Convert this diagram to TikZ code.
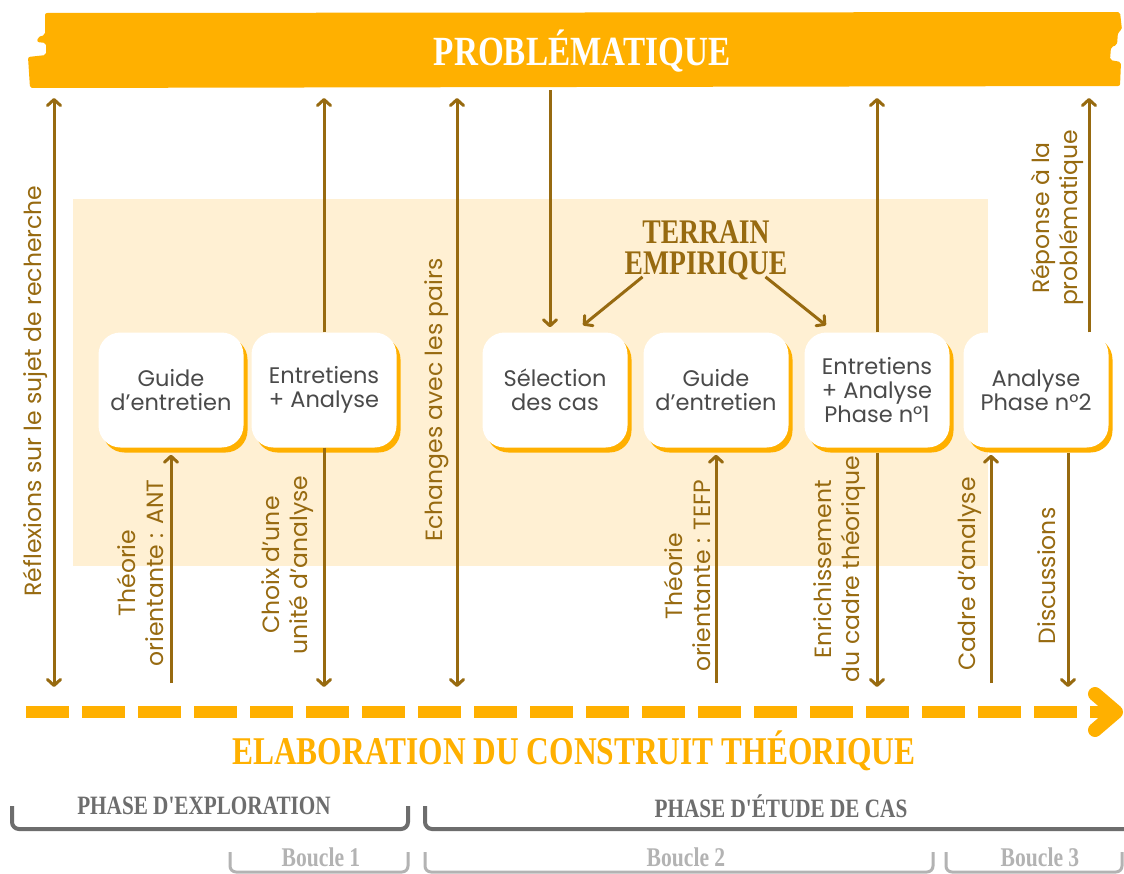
\documentclass[tikz,border=0pt]{standalone}
\usepackage{fontspec}
\setmainfont{Poppins}
\newfontfamily\headfont[FakeStretch=0.8]{Liberation Serif}
\usetikzlibrary{arrows.meta}
\definecolor{orng}{HTML}{FFB000}
\definecolor{brwn}{HTML}{976A10}
\definecolor{beige}{HTML}{FFF0D3}
\definecolor{txtgrey}{HTML}{4A4A4A}
\definecolor{phgrey}{HTML}{6D6D6D}
\definecolor{bcgrey}{HTML}{B3B3B3}
\tikzset{
  stepbox/.style={fill=white, rounded corners=22pt, minimum width=145pt, minimum height=115pt,
    align=center, text=txtgrey, font=\fontsize{22.5}{24}\selectfont, inner sep=0pt,
    preaction={fill=orng, transform canvas={xshift=4pt, yshift=-5pt}}},
  arr/.style={draw=brwn, line width=3pt, -{Straight Barb[length=6pt, width=13pt, round]}},
  darr/.style={draw=brwn, line width=3pt, {Straight Barb[length=6pt, width=13pt, round]}-{Straight Barb[length=6pt, width=13pt, round]}},
  lab/.style={rotate=90, align=center, text=brwn, font=\fontsize{23.5}{28}\selectfont, inner sep=0pt},
  head/.style={font=\headfont\bfseries, inner sep=0pt},
  bracket/.style={line width=4pt, rounded corners=7pt, draw=phgrey},
  lbracket/.style={line width=3pt, rounded corners=6pt, draw=bcgrey}
}
\begin{document}
\begin{tikzpicture}[x=1pt, y=-1pt]
\useasboundingbox (0,0) rectangle (1124,873);
\fill[white] (0,0) rectangle (1124,873);
% banner
\fill[orng, rounded corners=2pt] (45,13) -- (1120,12) -- (1122,30) -- (1118,32) -- (1117,45) -- (1111,47) -- (1110,60) -- (1121,62) -- (1120,86) -- (30,88) -- (28,57) -- (46,55) -- (46,43) -- (37,42) -- (38,37) -- (45,35) -- cycle;
\node[head, text=white, font=\headfont\bfseries\fontsize{41.5}{44}\selectfont] (prob) at (582,51) {PROBLÉMATIQUE};
% beige field
\fill[beige] (73,199) rectangle (988,566);
% boxes
\node[stepbox] (b1) at (171,390) {Guide\\d'entretien};
\node[stepbox] (b2) at (324,390) {Entretiens\\+ Analyse};
\node[stepbox] (b3) at (555,390) {Sélection\\des cas};
\node[stepbox] (b4) at (716,390) {Guide\\d'entretien};
\node[stepbox] (b5) at (877,390) {Entretiens\\+ Analyse\\Phase n°1};
\node[stepbox] (b6) at (1036,390) {Analyse\\Phase n°2};
\node[head, text=brwn, align=center, font=\headfont\bfseries\fontsize{34.5}{31}\selectfont] (terrain) at (706,250) {TERRAIN\\EMPIRIQUE};
% coordinates
\coordinate (t1) at (54,98);   \coordinate (e1) at (54,687);
\coordinate (e2) at (171,683);
\coordinate (t3) at (324,98);  \coordinate (e3) at (324,687);
\coordinate (t4) at (457,98);  \coordinate (e4) at (457,687);
\coordinate (t5) at (550,90);
\coordinate (e7) at (716,683);
\coordinate (t8) at (877,98);  \coordinate (e8) at (877,687);
\coordinate (e9) at (991,683);
\coordinate (e10) at (1068,687);
\coordinate (t11) at (1089,98);
% arrows
\draw[darr] (e1) -- (t1);
\draw[arr] (e2) -- ([yshift=-7pt]b1.south);
\draw[arr] (b2.north) -- (t3);
\draw[arr] (b2.south) -- (e3);
\draw[darr] (e4) -- (t4);
\draw[arr] (t5) -- ([xshift=-5pt,yshift=5pt]b3.north);
\draw[arr] (e7) -- ([yshift=-7pt]b4.south);
\draw[arr] (b5.north) -- (t8);
\draw[arr] ([yshift=-5pt]b5.south) -- (e8);
\draw[arr] (e9) -- ([xshift=-45pt,yshift=-7pt]b6.south);
\draw[arr] ([xshift=32pt,yshift=-5pt]b6.south) -- (e10);
\draw[arr] ([xshift=53pt]b6.north) -- (t11);
\draw[arr] ([xshift=18pt,yshift=3pt]terrain.south west) -- ([xshift=28pt,yshift=7pt]b3.north);
\draw[arr] ([xshift=-22pt,yshift=3pt]terrain.south east) -- ([xshift=-51pt,yshift=7pt]b5.north);
% labels
\node[lab] (l1) at (35,391) {Réflexions sur le sujet de recherche};
\node[lab] (l2) at (140,573) {Théorie\\orientante : ANT};
\node[lab] (l3) at (288,565) {Choix d'une\\unité d'analyse};
\node[lab] (l4) at (437,400) {Echanges avec les pairs};
\node[lab] (l5) at (687,576) {Théorie\\orientante : TEFP};
\node[lab] (l6) at (840,569) {Enrichissement\\du cadre théorique};
\node[lab] (l7) at (970,574) {Cadre d'analyse};
\node[lab] (l8) at (1047,576) {Discussions};
\node[lab] (l9) at (1057,218) {Réponse à la\\problématique};
% dashed timeline
\coordinate (ds) at (26,712);
\coordinate (de) at (1114,712);
\draw[orng, line width=12pt, dash pattern=on 43pt off 13pt] (ds) -- (de);
\draw[orng, line width=14pt, line cap=round, line join=round] (1095,694) -- (1116,712) -- (1095,730);
\node[head, text=orng, font=\headfont\bfseries\fontsize{39.3}{40}\selectfont] (elab) at (574,751) {ELABORATION DU CONSTRUIT THÉORIQUE};
% phases
\node[head, text=phgrey, font=\headfont\bfseries\fontsize{26.5}{28}\selectfont] (ph1) at (204,806) {PHASE D'EXPLORATION};
\node[head, text=phgrey, font=\headfont\bfseries\fontsize{26.5}{28}\selectfont] (ph2) at (781,806) {PHASE D'ÉTUDE DE CAS};
\draw[bracket] (12,806) -- (12,829) -- (408,829) -- (408,806);
\draw[bracket] (425,806) -- (425,829) -- (1126,829);
\node[head, text=bcgrey, font=\headfont\bfseries\fontsize{27}{28}\selectfont] (bc1) at (321,857) {Boucle 1};
\node[head, text=bcgrey, font=\headfont\bfseries\fontsize{27}{28}\selectfont] (bc2) at (686,857) {Boucle 2};
\node[head, text=bcgrey, font=\headfont\bfseries\fontsize{27}{28}\selectfont] (bc3) at (1040,857) {Boucle 3};
\draw[lbracket] (230,852) -- (230,872) -- (408,872) -- (408,852);
\draw[lbracket] (425,852) -- (425,872) -- (933,872) -- (933,852);
\draw[lbracket] (946,852) -- (946,872) -- (1122,872) -- (1122,852);
\end{tikzpicture}
\end{document}
